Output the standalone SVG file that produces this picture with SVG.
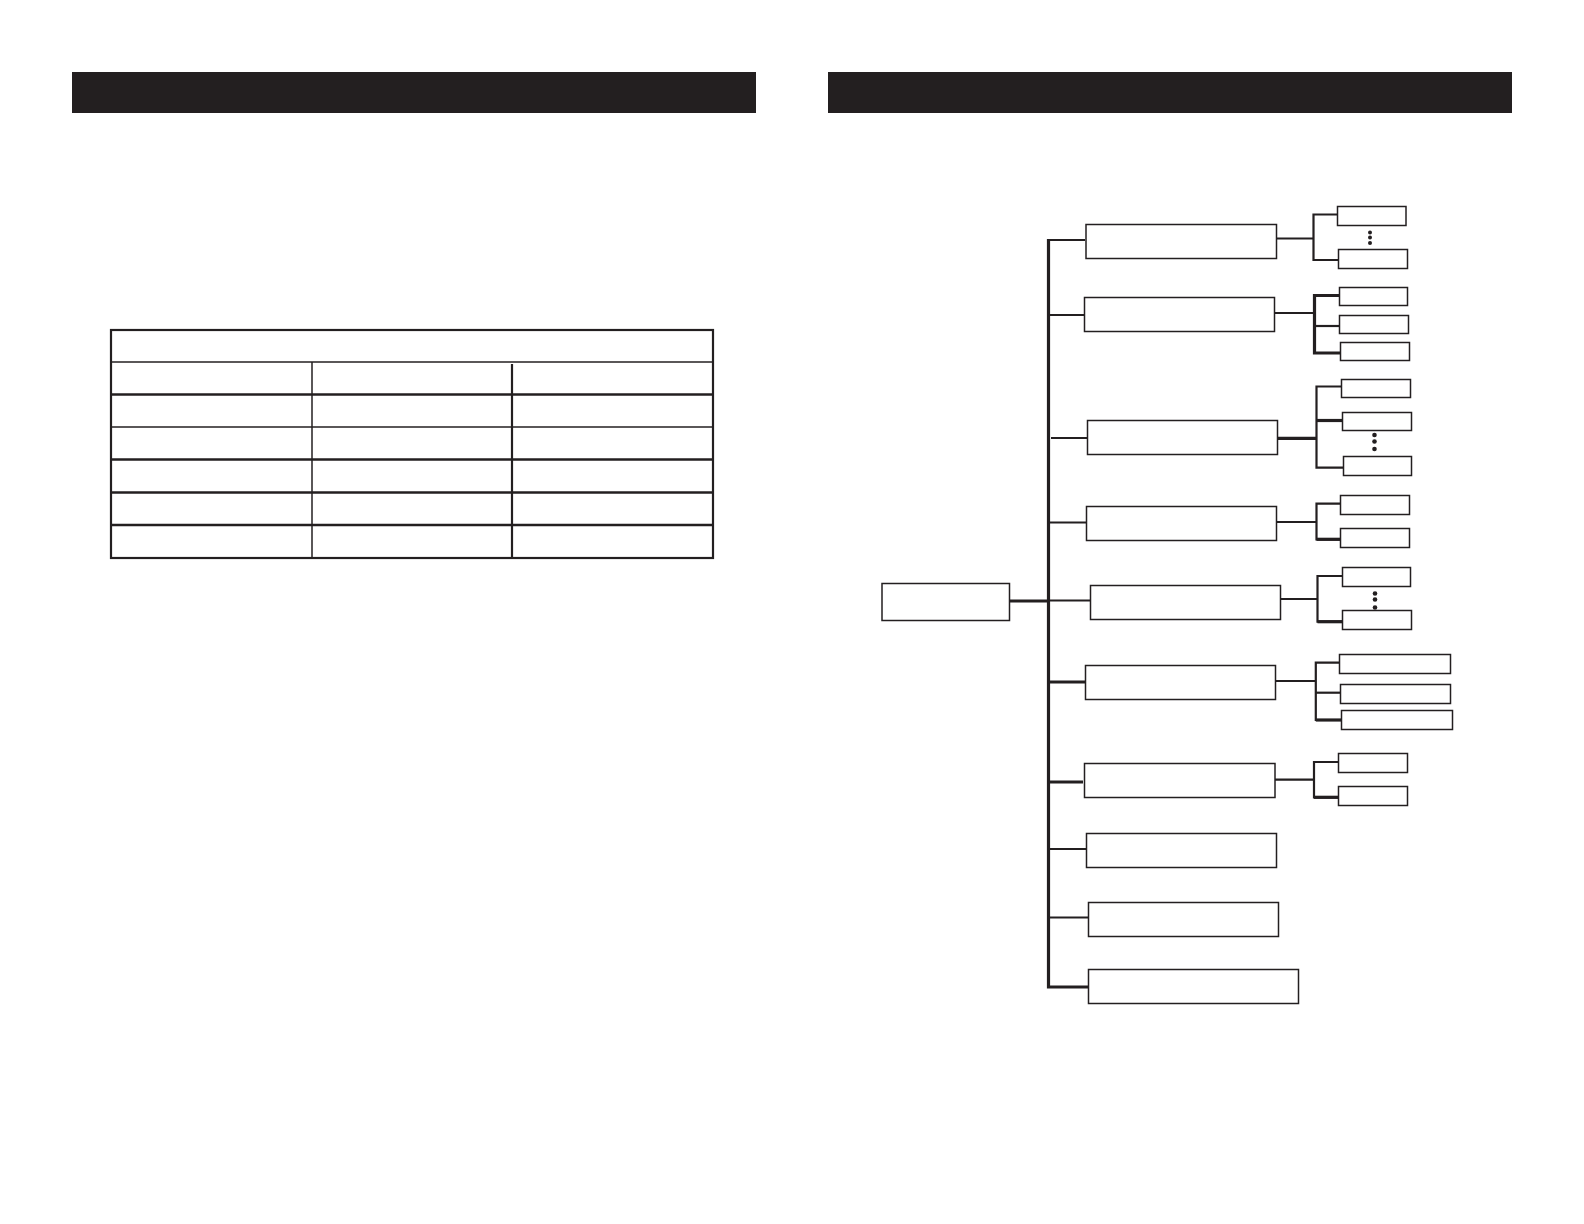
<svg xmlns="http://www.w3.org/2000/svg" width="1584" height="1224" viewBox="0 0 1584 1224">
<style>
.bar{fill:#231f20}
.box{fill:#fff;stroke:#231f20;stroke-width:1.5}
.c{fill:none;stroke:#231f20;stroke-width:2.2}
.ct{fill:none;stroke:#231f20;stroke-width:3.2}
.t{stroke:#231f20;fill:none}
.dot{fill:#231f20}
</style>
<rect width="1584" height="1224" fill="#fff"/>
<g id="header-left"><rect class="bar" x="72" y="72" width="684" height="41"/></g>
<g id="header-right"><rect class="bar" x="828" y="72" width="684" height="41"/></g>
<g id="table">
<rect x="111" y="330" width="602" height="228" class="t" stroke-width="2.2"/>
<line class="t" x1="111" y1="362" x2="713" y2="362" stroke-width="1.5"/>
<line class="t" x1="111" y1="394.5" x2="713" y2="394.5" stroke-width="2.5"/>
<line class="t" x1="111" y1="427" x2="713" y2="427" stroke-width="1.5"/>
<line class="t" x1="111" y1="459.5" x2="713" y2="459.5" stroke-width="2.5"/>
<line class="t" x1="111" y1="492.5" x2="712" y2="492.5" stroke-width="2.5"/>
<line class="t" x1="111" y1="525" x2="713" y2="525" stroke-width="2.5"/>
<line class="t" x1="312" y1="362" x2="312" y2="558" stroke-width="1.5"/>
<line class="t" x1="512" y1="364" x2="512" y2="558" stroke-width="2.2"/>
</g>
<g id="connectors">
<path class="ct" d="M1048.5 239 V987 H1088"/>
<path class="ct" d="M1009 601 H1048.5"/>
<path class="c" d="M1048.5 240 H1085"/>
<path class="c" d="M1048.5 315 H1084"/>
<path class="c" d="M1051 438 H1087"/>
<path class="c" d="M1048.5 522.5 H1086"/>
<path class="c" d="M1048.5 600.5 H1090"/>
<path class="ct" d="M1048.5 682 H1085"/>
<path class="ct" d="M1048.5 782 H1083"/>
<path class="c" d="M1048.5 849 H1086"/>
<path class="c" d="M1048.5 917.5 H1088"/>
<path class="c" d="M1276 238.5 H1313.5"/>
<path class="c" d="M1337 214.5 H1313.5 V260 H1338"/>
<path class="c" d="M1274.5 313 H1314.5"/>
<path class="ct" d="M1339.5 295.5 H1314.5 V353 H1340"/>
<path class="c" d="M1314.5 326 H1339.5"/>
<path class="ct" d="M1277 438.3 H1316.5"/>
<path class="c" d="M1341.5 386.5 H1316.5 V467.7 H1343"/>
<path class="ct" d="M1316.5 420.5 H1342.5"/>
<path class="c" d="M1276.5 522 H1316.5"/>
<path class="c" d="M1340 503.7 H1316.5 V539.3 H1340"/>
<path class="ct" d="M1316.5 539.3 H1340"/>
<path class="c" d="M1280.5 599 H1317.5"/>
<path class="c" d="M1342 576 H1317.5 V621.7 H1342.5"/>
<path class="ct" d="M1317.5 621.7 H1342.5"/>
<path class="c" d="M1275.5 681 H1315.8"/>
<path class="c" d="M1339.5 662.7 H1315.8 V720 H1341"/>
<path class="c" d="M1315.8 692.7 H1340"/>
<path class="ct" d="M1315.8 720 H1341"/>
<path class="c" d="M1274.8 779.7 H1314"/>
<path class="c" d="M1338.4 762 H1314 V797.3 H1338.4"/>
<path class="ct" d="M1314 797.3 H1338.4"/>
</g>
<g id="root"><rect class="box" x="882" y="583.5" width="127.5" height="37"/></g>
<g id="n1"><rect class="box" x="1086" y="224.5" width="190.5" height="34"/></g>
<g id="n2"><rect class="box" x="1084.5" y="297.5" width="190" height="34"/></g>
<g id="n3"><rect class="box" x="1087.5" y="420.5" width="190" height="34"/></g>
<g id="n4"><rect class="box" x="1086.5" y="506.5" width="190" height="34"/></g>
<g id="n5"><rect class="box" x="1090.5" y="585.5" width="190" height="34"/></g>
<g id="n6"><rect class="box" x="1085.5" y="665.5" width="190" height="34"/></g>
<g id="n7"><rect class="box" x="1084.5" y="763.5" width="190.5" height="34"/></g>
<g id="n8"><rect class="box" x="1086.5" y="833.5" width="190" height="34"/></g>
<g id="n9"><rect class="box" x="1088.5" y="902.5" width="190" height="34"/></g>
<g id="n10"><rect class="box" x="1088.5" y="969.5" width="210" height="34"/></g>
<g id="n1a"><rect class="box" x="1337.5" y="206.5" width="68.5" height="19"/></g>
<g id="n1dots"><circle class="dot" cx="1370" cy="232.5" r="2"/><circle class="dot" cx="1370" cy="237.5" r="2"/><circle class="dot" cx="1370" cy="243" r="2"/></g>
<g id="n1b"><rect class="box" x="1338.5" y="249.5" width="69" height="19"/></g>
<g id="n2a"><rect class="box" x="1339.5" y="287.5" width="68" height="18"/></g>
<g id="n2b"><rect class="box" x="1339.5" y="315.5" width="69" height="18"/></g>
<g id="n2c"><rect class="box" x="1340.5" y="342.5" width="69" height="18"/></g>
<g id="n3a"><rect class="box" x="1341.5" y="379.5" width="69" height="18"/></g>
<g id="n3b"><rect class="box" x="1342.5" y="412.5" width="69" height="18"/></g>
<g id="n3dots"><circle class="dot" cx="1374.5" cy="435" r="2.3"/><circle class="dot" cx="1374.5" cy="441.5" r="2.3"/><circle class="dot" cx="1374.5" cy="449" r="2.3"/></g>
<g id="n3c"><rect class="box" x="1343.5" y="456.5" width="68" height="19"/></g>
<g id="n4a"><rect class="box" x="1340.5" y="495.5" width="69" height="19"/></g>
<g id="n4b"><rect class="box" x="1340.5" y="528.5" width="69" height="19"/></g>
<g id="n5a"><rect class="box" x="1342.5" y="567.5" width="68" height="19"/></g>
<g id="n5dots"><circle class="dot" cx="1375" cy="593.5" r="2.3"/><circle class="dot" cx="1375" cy="599.5" r="2.3"/><circle class="dot" cx="1375" cy="607.5" r="2.3"/></g>
<g id="n5b"><rect class="box" x="1342.5" y="610.5" width="69" height="19"/></g>
<g id="n6a"><rect class="box" x="1339.5" y="654.5" width="111" height="19"/></g>
<g id="n6b"><rect class="box" x="1340.5" y="684.5" width="110" height="19"/></g>
<g id="n6c"><rect class="box" x="1341.5" y="710.5" width="111" height="19"/></g>
<g id="n7a"><rect class="box" x="1338.5" y="753.5" width="69" height="19"/></g>
<g id="n7b"><rect class="box" x="1338.5" y="786.5" width="69" height="19"/></g>
</svg>
